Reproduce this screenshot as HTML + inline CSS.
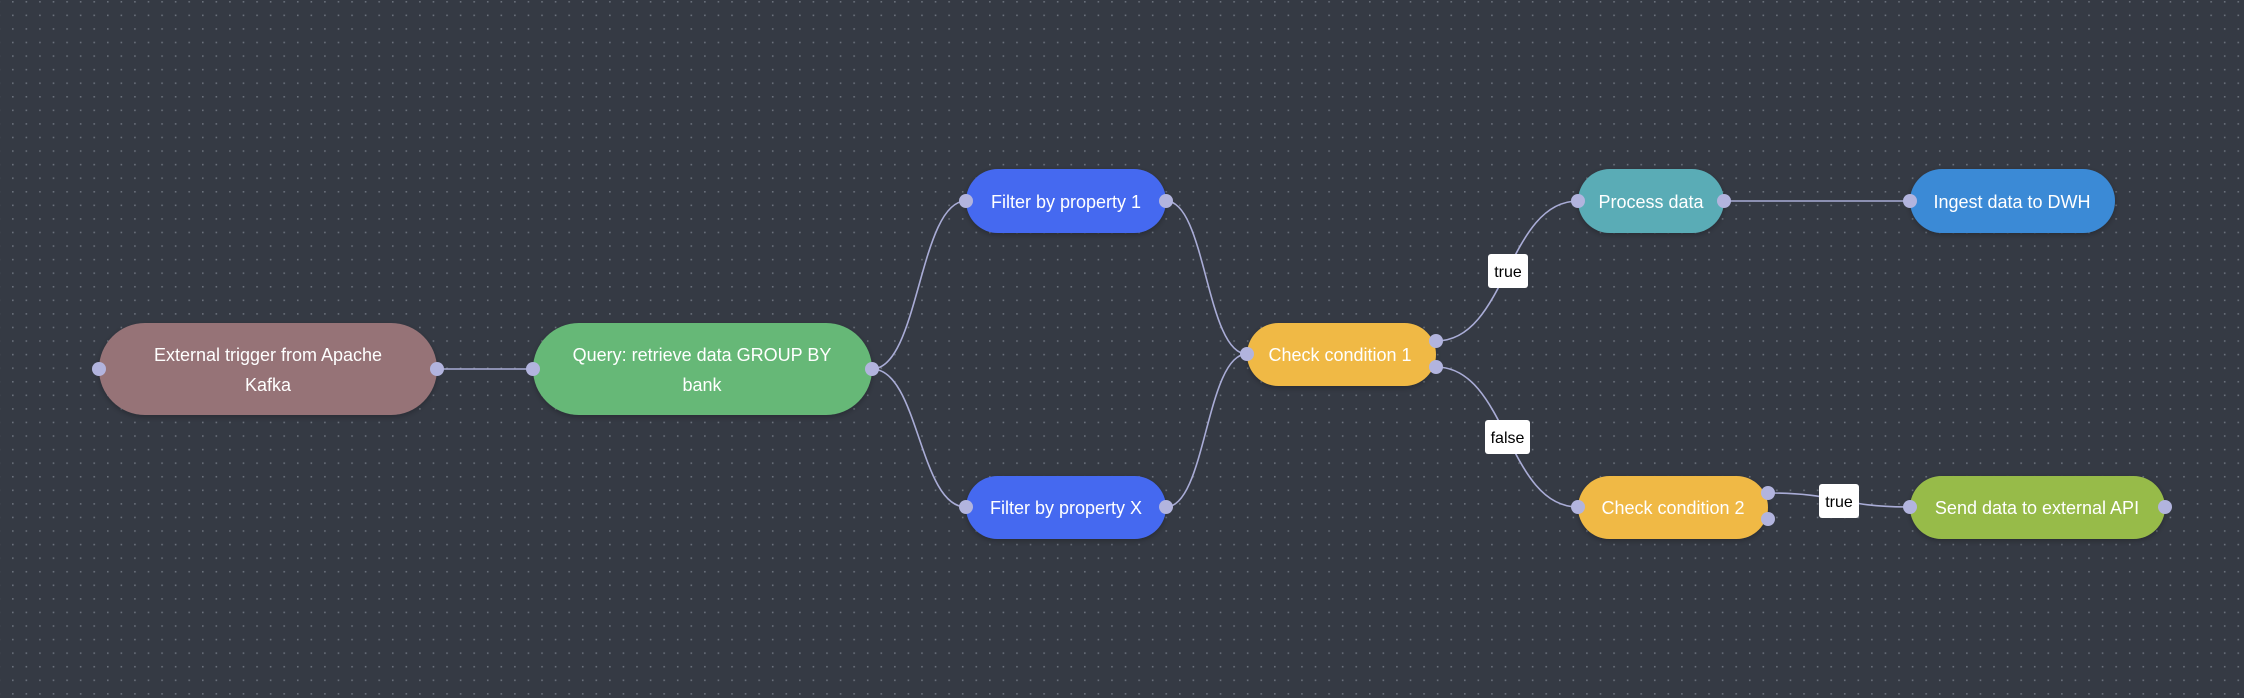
<!DOCTYPE html>
<html><head><meta charset="utf-8"><style>
html,body{margin:0;padding:0}
body{width:2244px;height:698px;overflow:hidden;background:#353a44;font-family:"Liberation Sans",sans-serif;position:relative}
</style></head><body>
<svg width="2244" height="698" xmlns="http://www.w3.org/2000/svg" style="position:absolute;left:0;top:0">
<defs>
<pattern id="dots" x="12" y="1" width="13.57" height="13.57" patternUnits="userSpaceOnUse">
<rect x="0" y="0" width="1.6" height="1.6" fill="#6a707b"/>
</pattern>
<filter id="sh" x="-20%" y="-30%" width="140%" height="160%"><feDropShadow dx="0" dy="2" stdDeviation="3" flood-color="#000" flood-opacity="0.25"/></filter>
</defs>
<rect width="2244" height="698" fill="url(#dots)"/>
<g fill="none" stroke="#a9acd6" stroke-width="1.6">
<path d="M437 369 L533 369"/>
<path d="M872 369 C919 369 919 201 966 201"/>
<path d="M872 369 C919 369 919 507 966 507"/>
<path d="M1166 201 C1206 201 1206 354 1247 354"/>
<path d="M1166 507 C1206 507 1206 354 1247 354"/>
<path d="M1436 341 C1507 341 1507 201 1578 201"/>
<path d="M1436 367 C1507 367 1507 507 1578 507"/>
<path d="M1724 201 L1910 201"/>
<path d="M1768 493 C1839 493 1839 507 1910 507"/>
</g>
<g filter="url(#sh)">
<rect x="99" y="323" width="338" height="92" rx="46" fill="#967377"/>
<rect x="533" y="323" width="339" height="92" rx="46" fill="#66b877"/>
<rect x="966" y="169" width="200" height="64" rx="32" fill="#4569f0"/>
<rect x="966" y="476" width="200" height="63" rx="31.5" fill="#4569f0"/>
<rect x="1247" y="323" width="189" height="63" rx="31.5" fill="#f0b944"/>
<rect x="1578" y="169" width="146" height="64" rx="32" fill="#5aacb6"/>
<rect x="1910" y="169" width="205" height="64" rx="32" fill="#3a8ad6"/>
<rect x="1578" y="476" width="190" height="63" rx="31.5" fill="#f0b944"/>
<rect x="1910" y="476" width="255" height="63" rx="31.5" fill="#97bb48"/>
</g>
<g fill="#ffffff" font-size="18" text-anchor="middle" font-family="Liberation Sans, sans-serif">
<text x="268" y="361">External trigger from Apache</text>
<text x="268" y="391">Kafka</text>
<text x="702" y="361">Query: retrieve data GROUP BY</text>
<text x="702" y="391">bank</text>
<text x="1066" y="208">Filter by property 1</text>
<text x="1066" y="514">Filter by property X</text>
<text x="1340" y="361">Check condition 1</text>
<text x="1651" y="208">Process data</text>
<text x="2012" y="208">Ingest data to DWH</text>
<text x="1673" y="514">Check condition 2</text>
<text x="2037" y="514">Send data to external API</text>
</g>
<g fill="#b2b4de">
<circle cx="99" cy="369" r="7"/><circle cx="437" cy="369" r="7"/>
<circle cx="533" cy="369" r="7"/><circle cx="872" cy="369" r="7"/>
<circle cx="966" cy="201" r="7"/><circle cx="1166" cy="201" r="7"/>
<circle cx="966" cy="507" r="7"/><circle cx="1166" cy="507" r="7"/>
<circle cx="1247" cy="354" r="7"/><circle cx="1436" cy="341" r="7"/><circle cx="1436" cy="367" r="7"/>
<circle cx="1578" cy="201" r="7"/><circle cx="1724" cy="201" r="7"/>
<circle cx="1910" cy="201" r="7"/>
<circle cx="1578" cy="507" r="7"/><circle cx="1768" cy="493" r="7"/><circle cx="1768" cy="519" r="7"/>
<circle cx="1910" cy="507" r="7"/><circle cx="2165" cy="507" r="7"/>
</g>
<g font-size="16" text-anchor="middle" fill="#000" font-family="Liberation Sans, sans-serif">
<rect x="1488" y="254" width="40" height="34" rx="3" fill="#fff"/>
<text x="1508" y="277">true</text>
<rect x="1485" y="420" width="45" height="34" rx="3" fill="#fff"/>
<text x="1507.5" y="443">false</text>
<rect x="1819" y="484" width="40" height="34" rx="3" fill="#fff"/>
<text x="1839" y="507">true</text>
</g>
</svg>
</body></html>
